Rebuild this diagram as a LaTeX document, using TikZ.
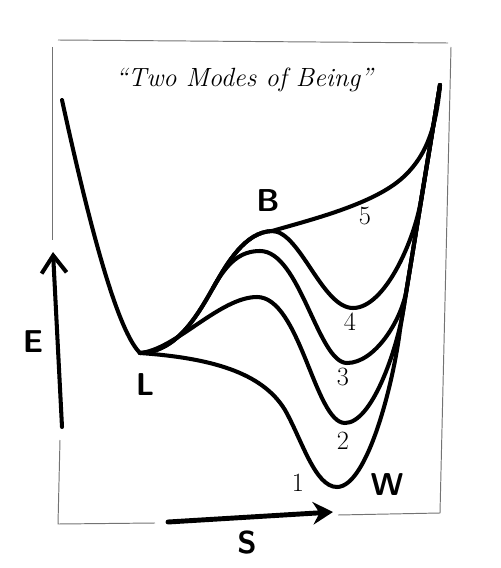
\documentclass[tikz,border=0pt]{standalone}
\usetikzlibrary{arrows.meta}
\begin{document}
\begin{tikzpicture}[x=0.2mm,y=-0.2mm,
  curve/.style={line width=2.3pt, line cap=round, line join=round},
  frame/.style={black!55, line width=0.55pt},
  letter/.style={font=\fontsize{18}{20}\selectfont\sffamily\bfseries},
  digit/.style={font=\fontsize{15}{18}\selectfont}]
  \useasboundingbox (0,0) rectangle (500,568);
  % sketched frame
  \draw[frame] (58,40) -- (448,43);
  \draw[frame] (52,47) -- (52,240);
  \draw[frame] (60,440) -- (58,524) -- (155,523);
  \draw[frame] (338,515) -- (440,513) -- (451,47);
  % title
  \node[font=\fontsize{15}{18}\selectfont\itshape] (title) at (244,80) {``Two Modes of Being''};
  % key points
  \coordinate (P) at (62,100);
  \coordinate (L) at (140,353);
  \coordinate (K) at (213,288);
  \coordinate (B) at (272,231);
  \coordinate (T) at (440,85);
  \coordinate (J1) at (400,330);
  \coordinate (J2) at (403.3,310);
  \coordinate (J3) at (406.5,290);
  \coordinate (J4) at (421,200);
  % left wall
  \draw[curve] (P) .. controls (98,265) and (122,335) .. (L);
  % curve 1
  \draw[curve] (L) .. controls (210,358) and (262,372) .. (285,410)
    .. controls (302,440) and (315,487) .. (337,487)
    .. controls (367,487) and (393,385) .. (J1) -- (T);
  % curve 2
  \draw[curve] (L) .. controls (175,350) and (220,297) .. (257,297)
    .. controls (300,297) and (315,423) .. (345,423)
    .. controls (372,423) and (396.8,350) .. (J2) -- (T);
  % curve 3
  \draw[curve] (L) .. controls (175,352) and (195,320) .. (K)
    .. controls (227,263) and (240,251) .. (260,251)
    .. controls (300,251) and (318,363) .. (347,363)
    .. controls (375,363) and (401.6,320) .. (J3) -- (T);
  % curve 4
  \draw[curve] (L) .. controls (175,352) and (195,320) .. (K)
    .. controls (227,263) and (245,232) .. (B)
    .. controls (300,231) and (322,308) .. (353,308)
    .. controls (385,308) and (414.5,240) .. (J4) -- (T);
  % curve 5
  \draw[curve] (K) .. controls (227,263) and (245,232) .. (B)
    .. controls (310,220) and (370,205) .. (400,180)
    .. controls (425,159) and (436,130) .. (T);
  % axes
  \coordinate (E0) at (62,427);
  \coordinate (E1) at (53,252);
  \coordinate (S0) at (168,522);
  \coordinate (S1) at (333,512);
  \draw[curve, -{Straight Barb[length=3.5mm,width=5mm]}] (E0) -- (E1);
  \draw[curve, line width=2.8pt, -{Stealth[length=4mm,width=4.5mm]}] (S0) -- (S1);
  % labels
  \node[letter] (Bl) at (268,201) {B};
  \node[letter] (Ll) at (145,385) {L};
  \node[letter] (El) at (33,342) {E};
  \node[letter] (Wl) at (387,485) {W};
  \node[letter] (Sl) at (247,543) {S};
  \node[digit] (n5) at (365,216) {5};
  \node[digit] (n4) at (350,322) {4};
  \node[digit] (n3) at (343,377) {3};
  \node[digit] (n2) at (343,441) {2};
  \node[digit] (n1) at (298,483) {1};
\end{tikzpicture}
\end{document}
